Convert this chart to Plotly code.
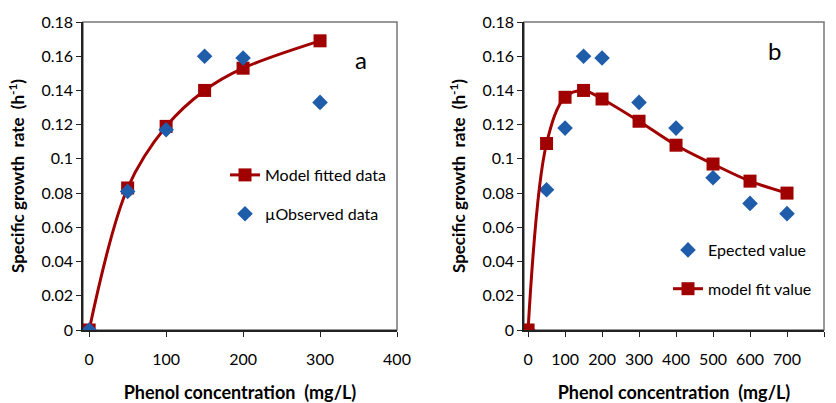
import plotly.graph_objects as go

# Panel a
a_x_model = [0, 50, 100, 150, 200, 300]
a_y_model = [0.0, 0.083, 0.119, 0.140, 0.153, 0.169]
a_x_obs = [0, 50, 100, 150, 200, 300]
a_y_obs = [0.0, 0.081, 0.117, 0.160, 0.159, 0.133]

# Panel b
b_x_obs = [0, 50, 100, 150, 200, 300, 400, 500, 600, 700]
b_y_obs = [0.0, 0.082, 0.118, 0.160, 0.159, 0.133, 0.118, 0.089, 0.074, 0.068]
b_x_model = [0, 50, 100, 150, 200, 300, 400, 500, 600, 700]
b_y_model = [0.0, 0.109, 0.136, 0.140, 0.135, 0.122, 0.108, 0.097, 0.087, 0.080]

y_ticks = [0, 0.02, 0.04, 0.06, 0.08, 0.1, 0.12, 0.14, 0.16, 0.18]
y_ticktext = ["0", "0.02", "0.04", "0.06", "0.08", "0.1", "0.12", "0.14", "0.16", "0.18"]
a_x_ticks = [0, 100, 200, 300, 400]
b_x_ticks = [0, 100, 200, 300, 400, 500, 600, 700, 800]

RED = "#A00000"
BLUE = "#1F5DAA"
FONT = "Lato"
TXT = "#000000"

fig = go.Figure()

fig.add_trace(go.Scatter(x=a_x_model, y=a_y_model, mode="lines+markers", name="Model fitted data",
                         line=dict(color=RED, width=3, shape="spline"),
                         marker=dict(symbol="square", size=13, color=RED),
                         xaxis="x", yaxis="y", legend="legend", legendgroup="a1"))
fig.add_trace(go.Scatter(x=a_x_obs, y=a_y_obs, mode="markers", name="µObserved data",
                         marker=dict(symbol="diamond", size=12, color=BLUE),
                         xaxis="x", yaxis="y", legend="legend", legendgroup="a2"))
fig.add_trace(go.Scatter(x=b_x_obs, y=b_y_obs, mode="markers", name="Epected value",
                         marker=dict(symbol="diamond", size=12, color=BLUE),
                         xaxis="x2", yaxis="y2", legend="legend2", legendgroup="b1"))
fig.add_trace(go.Scatter(x=b_x_model, y=b_y_model, mode="lines+markers", name="model fit value",
                         line=dict(color=RED, width=3, shape="spline"),
                         marker=dict(symbol="square", size=13, color=RED),
                         xaxis="x2", yaxis="y2", legend="legend2", legendgroup="b2"))

axis_common = dict(showgrid=False, zeroline=False, showline=True, linecolor="#222222", linewidth=1.5,
                   ticks="outside", ticklen=5, tickcolor="#222222", automargin=False,
                   tickfont=dict(family=FONT, size=16, color=TXT))

xtitle = dict(text="<b>Phenol concentration  (mg/L)</b>", font=dict(size=18, family=FONT, color=TXT), standoff=21)
ytitle = dict(text="<b>Specific growth  rate  (h<sup>-1</sup>)</b>", font=dict(size=17, family=FONT, color=TXT), standoff=12)

yd = [1 - 330 / 403, 1 - 22 / 403]
fig.update_layout(
    width=836, height=403, margin=dict(l=0, r=0, t=0, b=0, autoexpand=False),
    plot_bgcolor="white", paper_bgcolor="white",
    font=dict(family=FONT, color=TXT),
    xaxis=dict(domain=[83 / 836, 397 / 836], range=[-8, 400], tickvals=a_x_ticks, anchor="y",
               ticklabelstandoff=9, title=xtitle, **axis_common),
    yaxis=dict(domain=yd, range=[0, 0.18], tickvals=y_ticks, ticktext=y_ticktext, anchor="x",
               title=ytitle, **axis_common),
    xaxis2=dict(domain=[524 / 836, 824 / 836], range=[-11, 800], tickvals=b_x_ticks, anchor="y2",
                ticklabelstandoff=9, title=xtitle, **axis_common),
    yaxis2=dict(domain=yd, range=[0, 0.18], tickvals=y_ticks, ticktext=y_ticktext, anchor="x2",
                title=ytitle, **axis_common),
)

leg = dict(bgcolor="rgba(0,0,0,0)", font=dict(family=FONT, size=16, color=TXT),
           xanchor="left", yanchor="top", itemwidth=30, tracegroupgap=15, traceorder="grouped")
fig.update_layout(
    legend=dict(x=225 / 836, y=1 - 158 / 403, **leg),
    legend2=dict(x=668 / 836, y=1 - 233 / 403, **leg),
)

# grey frame on top/right
for x0, x1 in [(83 / 836, 397 / 836), (524 / 836, 824 / 836)]:
    fig.add_shape(type="rect", xref="paper", yref="paper", x0=x0, x1=x1, y0=yd[0], y1=yd[1],
                  line=dict(color="#777777", width=1.5), layer="below")

fig.add_annotation(text="a", xref="paper", yref="paper", x=361 / 836, y=1 - 60 / 403,
                   xanchor="center", yanchor="middle",
                   showarrow=False, font=dict(family=FONT, size=24, color=TXT))
fig.add_annotation(text="b", xref="paper", yref="paper", x=774 / 836, y=1 - 50 / 403,
                   xanchor="center", yanchor="middle",
                   showarrow=False, font=dict(family=FONT, size=24, color=TXT))

fig.write_html("out.html", config={"displayModeBar": False},
               post_script="document.body.style.margin='0';")
